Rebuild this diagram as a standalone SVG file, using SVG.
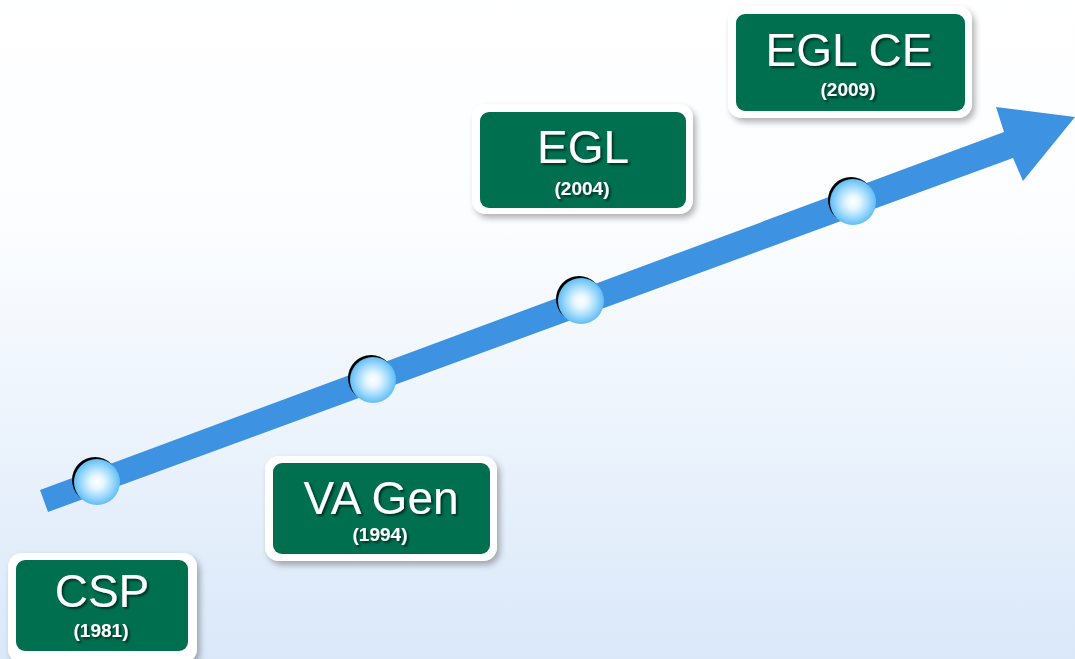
<svg xmlns="http://www.w3.org/2000/svg" width="1075" height="659" viewBox="0 0 1075 659">
  <defs>
    <linearGradient id="bg" x1="0" y1="0" x2="0" y2="1">
      <stop offset="0" stop-color="#ffffff"/>
      <stop offset="0.35" stop-color="#fbfdff"/>
      <stop offset="1" stop-color="#dae8f9"/>
    </linearGradient>
    <radialGradient id="dot" cx="0.5" cy="0.5" r="0.5">
      <stop offset="0" stop-color="#ffffff"/>
      <stop offset="0.3" stop-color="#e6f6ff"/>
      <stop offset="0.7" stop-color="#9ad8fc"/>
      <stop offset="1" stop-color="#62bdf4"/>
    </radialGradient>
    <filter id="boxShadow" x="-10%" y="-10%" width="125%" height="130%">
      <feDropShadow dx="3" dy="4" stdDeviation="3" flood-color="#000" flood-opacity="0.3"/>
    </filter>
    <filter id="txtShadow" x="-10%" y="-10%" width="120%" height="130%">
      <feDropShadow dx="2" dy="2" stdDeviation="0.8" flood-color="#000" flood-opacity="0.55"/>
    </filter>
  </defs>
  <style>
    .outer { fill: #ffffff; filter: url(#boxShadow); }
    .inner { fill: #006f4f; }
    .title { font-family: "Liberation Sans", Arial, sans-serif; fill: #ffffff; text-anchor: middle; filter: url(#txtShadow); }
    .big { font-size: 46px; }
    .year { font-size: 19px; font-weight: bold; }
    .arrow { fill: #3d93e2; }
    .dotback { fill: #000000; }
    .dotfront { fill: url(#dot); }
  </style>
  <rect x="0" y="0" width="1075" height="659" fill="url(#bg)"/>

  <g id="connectors">
    <polygon class="arrow" points="40,490 1004,132 996,107 1075,117 1023,181 1013,158 48,512"/>
  </g>

  <g id="dot-1981">
    <circle class="dotback" cx="95" cy="480" r="23"/>
    <circle class="dotfront" cx="97" cy="482" r="23"/>
  </g>
  <g id="dot-1994">
    <circle class="dotback" cx="371" cy="378" r="23"/>
    <circle class="dotfront" cx="373" cy="380" r="23"/>
  </g>
  <g id="dot-2004">
    <circle class="dotback" cx="579" cy="299" r="23"/>
    <circle class="dotfront" cx="581" cy="301" r="23"/>
  </g>
  <g id="dot-2009">
    <circle class="dotback" cx="851" cy="200" r="23"/>
    <circle class="dotfront" cx="853" cy="202" r="23"/>
  </g>

  <g id="node-csp">
    <rect class="outer" x="8" y="553" width="189" height="110" rx="14"/>
    <rect class="inner" x="16" y="560" width="172" height="91" rx="9"/>
    <text class="title big" x="102" y="607">CSP</text>
    <text class="title year" x="101" y="637">(1981)</text>
  </g>

  <g id="node-vagen">
    <rect class="outer" x="265" y="456" width="232" height="105" rx="14"/>
    <rect class="inner" x="273" y="463" width="217" height="91" rx="9"/>
    <text class="title big" x="381" y="514">VA Gen</text>
    <text class="title year" x="380" y="541">(1994)</text>
  </g>

  <g id="node-egl">
    <rect class="outer" x="472" y="104" width="221" height="110" rx="14"/>
    <rect class="inner" x="480" y="112" width="206" height="96" rx="9"/>
    <text class="title big" x="583" y="163">EGL</text>
    <text class="title year" x="582" y="195">(2004)</text>
  </g>

  <g id="node-eglce">
    <rect class="outer" x="728" y="6" width="244" height="112" rx="14"/>
    <rect class="inner" x="736" y="14" width="229" height="97" rx="9"/>
    <text class="title big" x="849" y="66">EGL CE</text>
    <text class="title year" x="848" y="96">(2009)</text>
  </g>
</svg>
